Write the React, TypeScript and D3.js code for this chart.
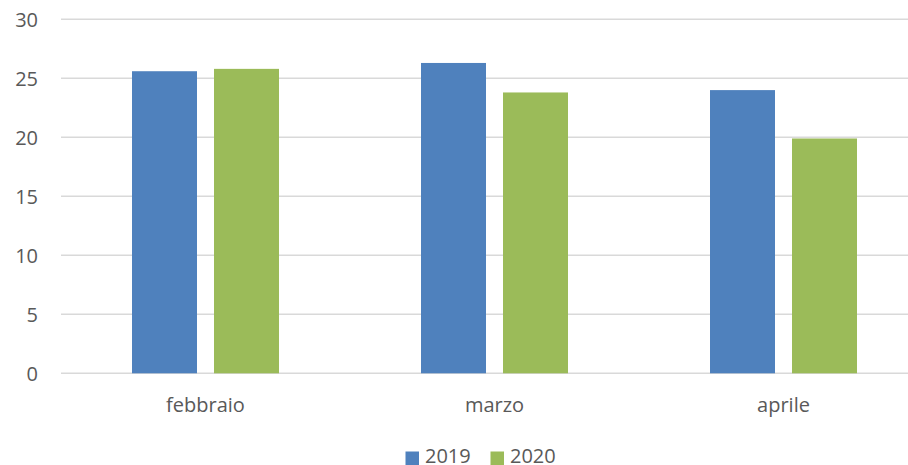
import React from "react";
import * as d3 from "d3";

const categories = ["febbraio", "marzo", "aprile"];
const seriesNames = ["2019", "2020"];
const values2019 = [25.6, 26.3, 24.0];
const values2020 = [25.8, 23.8, 19.9];
const yTicks = [0, 5, 10, 15, 20, 25, 30];
const colors = ["#4f81bd", "#9bbb59"];

export default function App() {
  const W = 908;
  const H = 465;
  const font = "'Open Sans', 'Liberation Sans', sans-serif";
  const textColor = "#595959";
  const x = d3.scaleBand<string>().domain(categories).range([61, 928]).paddingInner(0).paddingOuter(0);
  const step = x.bandwidth();
  const inner = d3
    .scaleBand<string>()
    .domain(seriesNames)
    .range([71, step - 71])
    .paddingInner(17 / 82)
    .paddingOuter(0);
  const y = d3.scaleLinear().domain([0, 30]).range([373.3, 19.3]);
  const series = [values2019, values2020];

  const legendX = [405.5, 490.5];

  return (
    <svg
      width={W}
      height={H}
      style={{ position: "absolute", left: 0, top: 0, background: "#fff" }}
      fontFamily={font}
    >
      <rect x={0} y={0} width={W} height={H} fill="#ffffff" />
      {yTicks.map((t) => (
        <g key={t}>
          <line x1={61} x2={W} y1={y(t)} y2={y(t)} stroke="#d9d9d9" strokeWidth={1.4} />
          <text
            x={38}
            y={y(t)}
            textAnchor="end"
            dominantBaseline="central"
            fontSize={20}
            fill={textColor}
          >
            {t}
          </text>
        </g>
      ))}
      {categories.map((c, i) => (
        <g key={c}>
          {seriesNames.map((s, j) => {
            const v = series[j][i];
            return (
              <rect
                key={s}
                x={(x(c) as number) + (inner(s) as number)}
                y={y(v)}
                width={inner.bandwidth()}
                height={y(0) - y(v)}
                fill={colors[j]}
              />
            );
          })}
          <text
            x={(x(c) as number) + step / 2}
            y={412}
            textAnchor="middle"
            fontSize={20}
            fill={textColor}
          >
            {c}
          </text>
        </g>
      ))}
      {seriesNames.map((s, j) => (
        <g key={s}>
          <rect x={legendX[j]} y={451.5} width={13.5} height={13.5} fill={colors[j]} />
          <text x={legendX[j] + 19.5} y={463} fontSize={20} fill={textColor}>
            {s}
          </text>
        </g>
      ))}
    </svg>
  );
}
